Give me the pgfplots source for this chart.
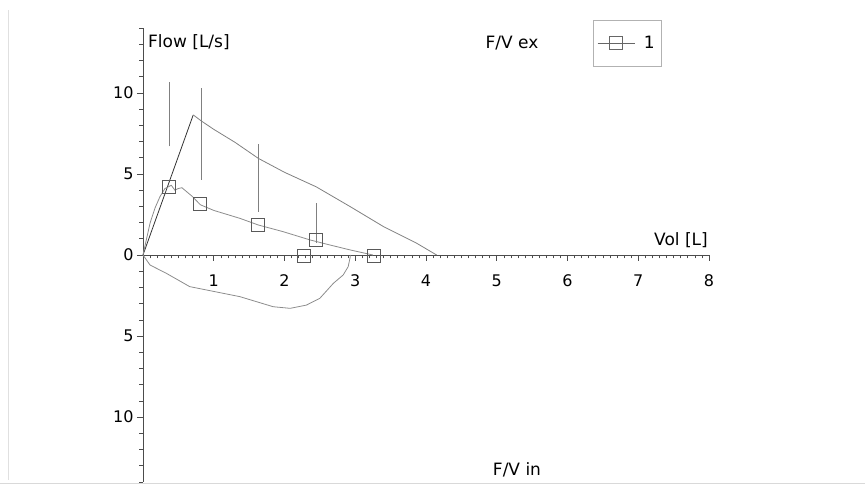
\documentclass[border=0pt]{standalone}
\usepackage{pgfplots}
\pgfplotsset{compat=1.18}
\usetikzlibrary{calc}
\usepackage{fontspec}
\setmainfont{DejaVu Sans}
\begin{document}
\begin{tikzpicture}[x=1pt,y=1pt]
\begin{axis}[
  at={(0,0)}, anchor=origin,
  scale only axis, width=566pt, height=454pt,
  xmin=0, xmax=8, ymin=-14, ymax=14,
  axis lines=middle,
  axis line style={color=black!70, line width=0.8pt, -},
  clip=false,
  xtick={1,...,8}, ytick={-10,-5,0,5,10},
  minor xtick={0,0.1,...,8.01},
  minor ytick={-14,...,14},
  tick align=outside,
  major tick length=6pt, minor tick length=3.5pt,
  tick style={color=black!70, line width=0.6pt},
  hide obscured y ticks=false,
  /pgf/number format/assume math mode=true,
  xticklabel style={font=\fontsize{16}{18}\selectfont, yshift=-10pt},
  yticklabel style={font=\fontsize{16}{18}\selectfont},
  yticklabel={\pgfmathparse{abs(\tick)}\pgfmathprintnumber{\pgfmathresult}},
  legend image code/.code={\draw[mark repeat=2,mark phase=2,#1] plot coordinates {(0pt,0pt)(18pt,0pt)(37pt,0pt)};},
  legend style={at={(0.795,1.0176)}, anchor=north west, draw=black!30, fill=white,
    font=\fontsize{17}{20}\selectfont, inner xsep=4pt, inner ysep=14pt},
]
\coordinate (O) at (axis cs:0,0);
% predicted curve
\addplot[forget plot, black!80, line width=0.8pt] coordinates {(0,0) (0.71,8.64)};
\addplot[forget plot, black!50, line width=0.8pt] coordinates {
  (0.71,8.64) (0.83,8.25) (1.0,7.75) (1.3,6.95) (1.63,5.96) (2.0,5.1)
  (2.45,4.2) (2.93,2.98) (3.40,1.75) (3.87,0.72) (4.15,0)};
% measured expiration
\addplot[forget plot, black!45, line width=0.8pt] coordinates {
  (0,0) (0.03,0.6) (0.1,1.97) (0.17,2.9) (0.24,3.6) (0.31,4.1) (0.40,4.3)
  (0.45,4.0) (0.5,4.1) (0.55,4.15) (0.7,3.6) (0.81,3.1) (1.0,2.75)
  (1.37,2.26) (1.63,1.85) (1.98,1.44) (2.36,0.93) (2.64,0.62) (2.93,0.31) (3.25,0)};
% measured inspiration
\addplot[forget plot, black!45, line width=0.8pt] coordinates {
  (0,0) (0.1,-0.62) (0.33,-1.13) (0.66,-1.95) (0.9,-2.16) (1.37,-2.57)
  (1.84,-3.19) (2.08,-3.29) (2.31,-3.09) (2.5,-2.67) (2.69,-1.75)
  (2.83,-1.23) (2.9,-0.72) (2.93,-0.1) (2.93,0)};
% ranges
\addplot[forget plot, black!50, line width=0.8pt] coordinates {(0.37,6.7) (0.37,10.7)};
\addplot[forget plot, black!50, line width=0.8pt] coordinates {(0.82,4.63) (0.82,10.3)};
\addplot[forget plot, black!50, line width=0.8pt] coordinates {(1.63,2.67) (1.63,6.83)};
\addplot[forget plot, black!50, line width=0.8pt] coordinates {(2.45,0.74) (2.45,3.19)};
% markers
\addplot[forget plot, only marks, mark=square, mark size=6.5pt, black!65,
  mark options={line width=0.8pt}] coordinates {
  (0.36,4.22) (0.805,3.13) (1.63,1.85) (2.445,0.93) (2.27,-0.03) (3.26,-0.03)};
\addlegendimage{black!60, line width=0.8pt, mark=square, mark size=6.5pt}
\addlegendentry{\hspace{7pt}1}
\end{axis}
\pgfresetboundingbox
\path[use as bounding box] ($(O)+(-143,255)$) rectangle ($(O)+(722,-231)$);
\draw[black!12, line width=0.8pt] ($(O)+(-135,245)$) -- ($(O)+(-135,-225)$);
\draw[black!15, line width=0.8pt] ($(O)+(-143,-228)$) -- ($(O)+(722,-228)$);
\node[anchor=west, inner sep=0, font=\fontsize{17}{20}\selectfont] at ($(O)+(5,213)$) {Flow [L/s]};
\node[inner sep=0, font=\fontsize{17}{20}\selectfont] at ($(O)+(369,212)$) {F/V ex};
\node[anchor=east, inner sep=0, font=\fontsize{17}{20}\selectfont] at ($(O)+(565,15)$) {Vol [L]};
\node[inner sep=0, font=\fontsize{17}{20}\selectfont] at ($(O)+(374,-215)$) {F/V in};
\end{tikzpicture}
\end{document}
